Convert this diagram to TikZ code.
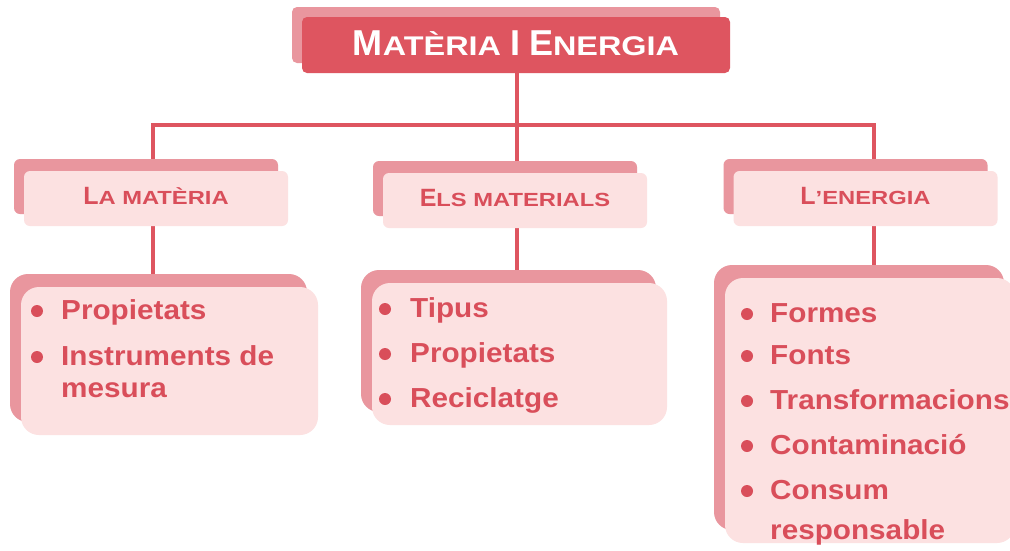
\documentclass[tikz,border=0pt]{standalone}
\usepackage{fontspec}
\setmainfont{Liberation Sans}
\newfontfamily\bodyfont{Liberation Sans}[FakeStretch=1.08]
\newfontfamily\tscfont{Liberation Sans}[FakeStretch=1.2]
\newfontfamily\hscfont{Liberation Sans}[FakeStretch=1.25]
\usetikzlibrary{shadows,backgrounds}
\definecolor{mainred}{RGB}{222,85,96}
\definecolor{txtred}{RGB}{217,78,90}
\definecolor{shadowred}{RGB}{233,150,158}
\definecolor{lightpink}{RGB}{252,225,225}
\newcommand\tbig[1]{{\fontsize{36pt}{36pt}\selectfont\bfseries #1}}
\newcommand\tsml[1]{{\tscfont\fontsize{27pt}{27pt}\selectfont\bfseries #1}}
\newcommand\hbig[1]{{\fontsize{25pt}{25pt}\selectfont\bfseries #1}}
\newcommand\hsml[1]{{\hscfont\fontsize{19pt}{19pt}\selectfont\bfseries #1}}
\tikzset{
  titlebox/.style={rectangle, rounded corners=5pt, fill=mainred, draw=none,
    minimum width=428pt, minimum height=56pt, inner sep=0pt,
    copy shadow={shadow xshift=-10pt, shadow yshift=10pt, fill=shadowred, draw=none},
    text=white, text height=26pt, text depth=6pt},
  headbox/.style={rectangle, rounded corners=6pt, fill=lightpink, draw=none,
    minimum width=264pt, minimum height=55pt, inner sep=0pt,
    copy shadow={shadow xshift=-10pt, shadow yshift=12pt, fill=shadowred, draw=none},
    text=txtred, text height=18pt, text depth=7pt},
  listbox/.style={rectangle, rounded corners=18pt, fill=lightpink, draw=none, inner sep=0pt,
    copy shadow={shadow xshift=-11pt, shadow yshift=13pt, fill=shadowred, draw=none}},
  itemtxt/.style={anchor=base west, text=txtred, inner sep=0pt,
    font=\bodyfont\bfseries\fontsize{27.5pt}{30pt}\selectfont},
  dot/.style={circle, fill=txtred, draw=none, minimum size=12pt, inner sep=0pt},
  conn/.style={draw=mainred, line width=4.5pt},
}
\begin{document}
\begin{tikzpicture}[x=1pt, y=-1pt]
\useasboundingbox (0,0) rectangle (1010,550);
% title
\node[titlebox] (title) at (516,45) {\tbig{M}\tsml{ATÈRIA }\tbig{I}\tsml{ }\tbig{E}\tsml{NERGIA}};
% headers
\node[headbox] (hL) at (156,198.5) {\hbig{L}\hsml{A MATÈRIA}};
\node[headbox] (hM) at (515,200.5) {\hbig{E}\hsml{LS MATERIALS}};
\node[headbox] (hR) at (865.5,198.5) {\hbig{L}\hsml{’ENERGIA}};
% list boxes
\node[listbox, minimum width=297pt, minimum height=148pt] (bL) at (169.5,361) {};
\node[listbox, minimum width=295pt, minimum height=142pt] (bM) at (519.5,354) {};
\node[listbox, minimum width=290pt, minimum height=265pt] (bR) at (870,410.5) {};
% left items
\node[dot] (dL1) at (37,311) {};
\node[itemtxt] (tL1) at (61,319) {Propietats};
\node[dot] (dL2) at (37,357) {};
\node[itemtxt] (tL2) at (61,365) {Instruments de};
\node[itemtxt] (tL3) at (61,397) {mesura};
% middle items
\node[dot] (dM1) at (385,309) {};
\node[itemtxt] (tM1) at (410,317) {Tipus};
\node[dot] (dM2) at (385,354) {};
\node[itemtxt] (tM2) at (410,362) {Propietats};
\node[dot] (dM3) at (385,399) {};
\node[itemtxt] (tM3) at (410,407) {Reciclatge};
% right items
\node[dot] (dR1) at (747,314) {};
\node[itemtxt] (tR1) at (770,322) {Formes};
\node[dot] (dR2) at (747,356) {};
\node[itemtxt] (tR2) at (770,364) {Fonts};
\node[dot] (dR3) at (747,401) {};
\node[itemtxt] (tR3) at (770,409) {Transformacions};
\node[dot] (dR4) at (747,446) {};
\node[itemtxt] (tR4) at (770,454) {Contaminació};
\node[dot] (dR5) at (747,491) {};
\node[itemtxt] (tR5) at (770,499) {Consum};
\node[itemtxt] (tR6) at (770,539) {responsable};
% connectors
\coordinate (jL) at (153,125);
\coordinate (jM) at (517,125);
\coordinate (jR) at (874,125);
\begin{scope}[on background layer]
  \fill[white] (0,0) rectangle (1010,550);
  \draw[conn] (jM |- title.south) -- (jM);
  \draw[conn] (jL |- hL.north) -- (jL) -- (jR) -- (jR |- hR.north);
  \draw[conn] (jM) -- (jM |- hM.north);
  \draw[conn] (jL |- hL.south) -- (jL |- bL.north);
  \draw[conn] (jM |- hM.south) -- (jM |- bM.north);
  \draw[conn] (jR |- hR.south) -- (jR |- bR.north);
\end{scope}
\end{tikzpicture}
\end{document}
